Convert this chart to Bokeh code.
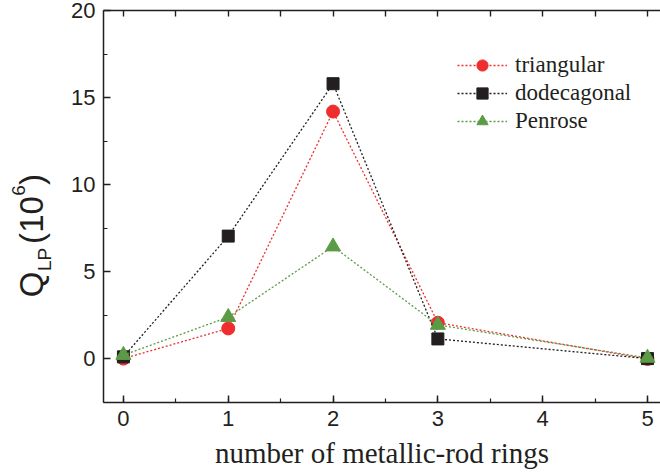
import math
from bokeh.plotting import figure
from bokeh.layouts import row
from bokeh.models import (Range1d, SingleIntervalTicker, FixedTicker, LinearAxis,
                          Legend, LegendItem, ColumnDataSource)
from bokeh.core.properties import value
from bokeh.embed import file_html
from bokeh.resources import INLINE

# ---- data ----
x_rings = [0, 1, 2, 3, 5]
triangular = [0.02, 1.75, 14.2, 2.08, 0.0]
dodecagonal = [0.12, 7.05, 15.8, 1.15, 0.02]
penrose = [0.22, 2.4, 6.45, 1.95, 0.06]
series_names = ["triangular", "dodecagonal", "Penrose"]
x_label = "number of metallic-rod rings"
y_label_parts = ["Q", "LP", "(", "10", "6", ")"]
x_tick_step = 1
y_tick_step = 5

RED = "#ee2e2e"
BLACK = "#231f20"
GREEN = "#5b9b45"
AXC = "#231f20"

# ---- layout (pixels) ----
W, H = 660, 475
LW = 60                                      # width of the y-label strip
FL, FR, FT, FB = 103, 660, 10, 402          # frame edges (page pixels)
X0, X1 = -0.19, 5.124
Y0, Y1 = -2.5, 20

p = figure(width=W - LW, height=H, output_backend="svg", toolbar_location=None,
           x_range=Range1d(X0, X1), y_range=Range1d(Y0, Y1),
           min_border_left=FL - LW, min_border_right=W - FR, min_border_top=FT,
           min_border_bottom=H - FB)
p.outline_line_color = None
p.xgrid.visible = False
p.ygrid.visible = False
p.background_fill_color = "white"
p.border_fill_color = "white"


def style_axis(ax, ticker):
    ax.ticker = ticker
    ax.axis_line_color = AXC
    ax.axis_line_width = 1.5
    ax.major_tick_line_color = AXC
    ax.minor_tick_line_color = AXC
    ax.major_tick_line_width = 1.5
    ax.minor_tick_line_width = 1.2
    ax.major_tick_in = 7
    ax.major_tick_out = 0
    ax.minor_tick_in = 4
    ax.minor_tick_out = 0
    ax.major_label_text_font = "Liberation Sans"
    ax.major_label_text_font_size = "22px"
    ax.major_label_text_color = AXC


style_axis(p.xaxis[0], SingleIntervalTicker(interval=x_tick_step, num_minor_ticks=2))
style_axis(p.yaxis[0], SingleIntervalTicker(interval=y_tick_step, num_minor_ticks=2))
p.xaxis.major_label_standoff = 8
p.yaxis.major_label_standoff = 8
p.xaxis.axis_label = x_label
p.xaxis.axis_label_text_font = "Liberation Serif"
p.xaxis.axis_label_text_font_size = "29px"
p.xaxis.axis_label_text_font_style = "normal"
p.xaxis.axis_label_text_color = AXC
p.xaxis.axis_label_standoff = 8

# top frame line with inward ticks only (no labels)
top_minor = [i * x_tick_step / 2 for i in range(0, 11)]
top = LinearAxis()
style_axis(top, FixedTicker(ticks=[], minor_ticks=top_minor))
top.minor_tick_in = 6
top.minor_tick_line_width = 1.4
p.add_layout(top, "above")

# ---- series ----
specs = [
    (triangular, RED, "circle", 13),
    (dodecagonal, BLACK, "square", 12),
    (penrose, GREEN, "triangle", 15),
]
items = []
for name, (ys, col, mk, sz) in zip(series_names, specs):
    lr = p.line(x_rings, ys, line_color=col, line_width=1.3, line_dash="2 2")
    sr = p.scatter(x_rings, ys, marker=mk, size=sz, fill_color=col,
                   line_color=col)
    items.append(LegendItem(label=name, renderers=[lr, sr]))

legend = Legend(items=items, location=(457 - FL, FB - 135), glyph_width=50,
                glyph_height=28, label_height=20, spacing=0, padding=0,
                margin=0, border_line_color=None, background_fill_alpha=0,
                label_text_font="Liberation Serif", label_text_font_size="23px",
                label_text_color=AXC, label_standoff=8)
p.add_layout(legend)

# ---- y-axis label strip: Q_LP (10^6) as real text pieces ----
# its frame is given the same top/bottom borders as the main plot, and its
# ranges are page pixels (y counted from the bottom of the page)
lab = figure(width=LW, height=H, output_backend="svg", toolbar_location=None,
             x_range=Range1d(0, LW), y_range=Range1d(H - FB, H - FT),
             x_axis_type=None, y_axis_type=None, min_border_left=0,
             min_border_right=0, min_border_top=FT, min_border_bottom=H - FB)
lab.outline_line_color = None
lab.xgrid.visible = False
lab.ygrid.visible = False
lab.border_fill_color = "white"
lab.background_fill_color = "white"

F_MAIN, F_SMALL = "33px", "19px"
# centre of each piece, page pixels (y measured from the top)
cx = [31, 44, 31, 31, 18, 31]
cy_top = [284, 259, 238, 214, 190, 179]
label_src = ColumnDataSource(dict(
    text=y_label_parts,
    cx=cx,
    cy=[H - v for v in cy_top],
    fs=[F_MAIN, F_SMALL, F_MAIN, F_MAIN, F_SMALL, F_MAIN],
))
lab.text(x="cx", y="cy", text="text", source=label_src, angle=math.pi / 2,
         text_font=value("Liberation Sans"), text_font_size="fs",
         text_color=AXC, text_align="center", text_baseline="middle")

layout = row(lab, p, spacing=0)
open("out.html", "w").write(file_html(layout, INLINE))
